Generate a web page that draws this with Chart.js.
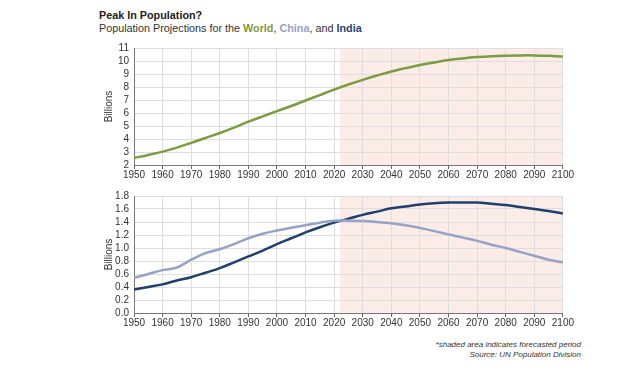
<!DOCTYPE html>
<html>
<head>
<meta charset="utf-8">
<script src="https://cdn.jsdelivr.net/npm/chart.js@4"></script>
<style>
  body { margin: 0; background: #fff; font-family: "Liberation Sans", Arial, sans-serif; }
  #wrap { position: relative; width: 625px; height: 370px; }
  .title { position: absolute; left: 99px; top: 9px; font-size: 10.8px; font-weight: bold; color: #222; }
  .sub { position: absolute; left: 99px; top: 22px; font-size: 10.8px; color: #333; }
  .sub b { font-weight: bold; }
  .box { position: absolute; left: 103px; width: 471px; height: 148px; }
  .note { position: absolute; right: 44px; font-size: 8px; font-style: italic; color: #333; text-align: right; }
</style>
</head>
<body>
<div id="wrap">
  <div class="title">Peak In Population?</div>
  <div class="sub">Population Projections for the <b style="color:#7b9c40">World</b>, <b style="color:#97a3c6">China</b>, and <b style="color:#27477a">India</b></div>
  <div class="box" style="top:37px"><canvas id="top"></canvas></div>
  <div class="box" style="top:185px"><canvas id="bottom"></canvas></div>
  <div class="note" style="top:340px">*shaded area indicates forecasted period</div>
  <div class="note" style="top:350px">Source: UN Population Division</div>
</div>
<script>
// population in billions, every 5 years
var years = [1950, 1955, 1960, 1965, 1970, 1975, 1980, 1985, 1990, 1995, 2000,
  2005, 2010, 2015, 2020, 2025, 2030, 2035, 2040, 2045, 2050, 2055, 2060,
  2065, 2070, 2075, 2080, 2085, 2090, 2095, 2100];
var world = [2.54, 2.77, 3.03, 3.34, 3.70, 4.08, 4.46, 4.87, 5.33, 5.74, 6.14,
  6.54, 6.96, 7.38, 7.80, 8.19, 8.55, 8.88, 9.19, 9.45, 9.69, 9.89, 10.07,
  10.20, 10.30, 10.37, 10.41, 10.43, 10.43, 10.40, 10.35];
var china = [0.54, 0.60, 0.66, 0.70, 0.82, 0.92, 0.98, 1.06, 1.15, 1.22, 1.27,
  1.31, 1.35, 1.39, 1.42, 1.42, 1.415, 1.40, 1.38, 1.35, 1.31, 1.26, 1.21,
  1.16, 1.11, 1.05, 1.00, 0.94, 0.88, 0.82, 0.78];
var india = [0.36, 0.40, 0.44, 0.50, 0.55, 0.62, 0.69, 0.78, 0.87, 0.96, 1.06,
  1.15, 1.24, 1.32, 1.39, 1.45, 1.51, 1.56, 1.61, 1.64, 1.67, 1.69, 1.70,
  1.70, 1.70, 1.68, 1.66, 1.63, 1.60, 1.57, 1.53];
var forecastStart = 2022;

var font = { family: '"Liberation Sans Narrow", "Liberation Sans", Arial, sans-serif', size: 10 };

// pink band for the projected years, drawn under the grid
var shade = {
  id: 'shade',
  beforeDraw: function (chart) {
    var a = chart.chartArea, x = chart.scales.x.getPixelForValue(forecastStart);
    var ctx = chart.ctx;
    ctx.save();
    ctx.fillStyle = '#fcece7';
    ctx.fillRect(x, a.top, a.right - x, a.bottom - a.top);
    ctx.restore();
  }
};

function pts(vals) {
  return vals.map(function (v, i) { return { x: years[i], y: v }; });
}

function makeChart(id, sets, ymin, ymax, step, dec) {
  return new Chart(document.getElementById(id), {
    type: 'line',
    data: { datasets: sets },
    plugins: [shade],
    options: {
      responsive: true,
      maintainAspectRatio: false,
      animation: false,
      layout: { padding: { top: 6, right: 0 } },
      plugins: { legend: { display: false }, tooltip: { enabled: false } },
      elements: { point: { radius: 0 }, line: { borderWidth: 2.5, tension: 0.4 } },
      scales: {
        x: {
          type: 'linear', min: 1950, max: 2100,
          afterFit: function (s) { s.height = 20; },
          ticks: { stepSize: 10, color: '#333', font: font, maxRotation: 0, padding: 0,
            autoSkip: false, callback: function (v) { return String(v); } },
          grid: { color: '#dedede', tickColor: '#666', tickLength: 4 },
          border: { color: '#777' }
        },
        y: {
          min: ymin, max: ymax,
          afterFit: function (s) { s.width = 31; },
          ticks: { stepSize: step, color: '#333', font: font, padding: 5, autoSkip: false,
            callback: function (v) { return v.toFixed(dec); } },
          grid: { color: '#dedede', drawTicks: false },
          border: { color: '#777' },
          title: { display: true, text: 'Billions', color: '#333', font: font, padding: 0 }
        }
      }
    }
  });
}

makeChart('top', [
  { data: pts(world), borderColor: '#7b9c40' }
], 2, 11, 1, 0);

makeChart('bottom', [
  { data: pts(china), borderColor: '#97a3c6' },
  { data: pts(india), borderColor: '#1f3f6e' }
], 0, 1.8, 0.2, 1);
</script>
</body>
</html>
